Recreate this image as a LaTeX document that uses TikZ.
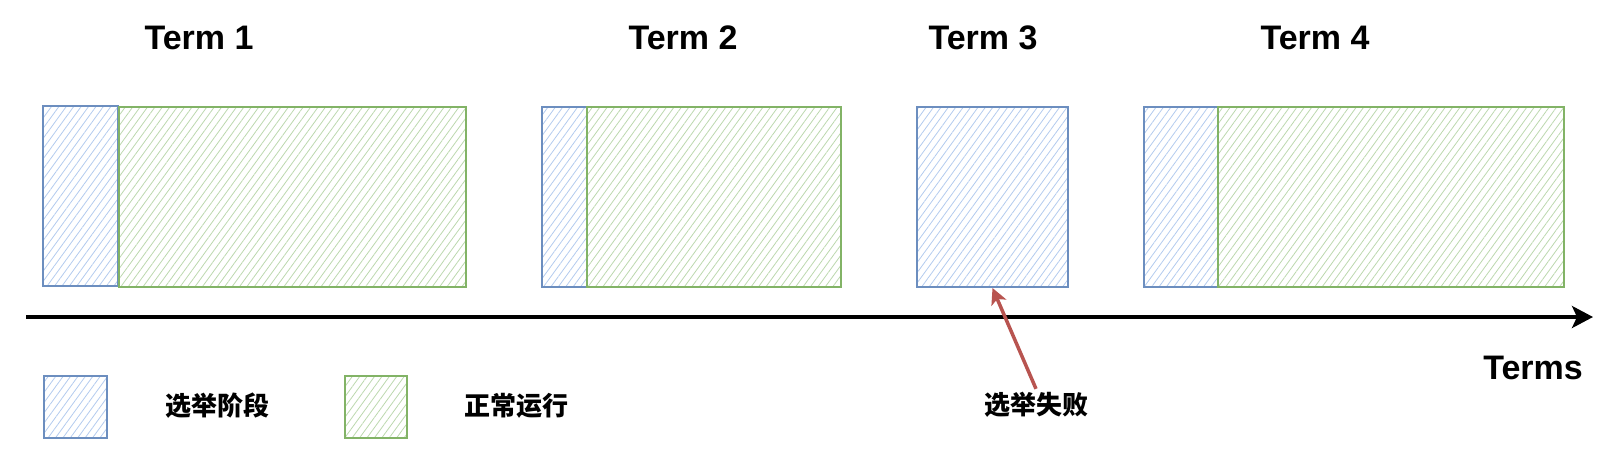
\documentclass[tikz,border=0pt]{standalone}
\usepackage{fontspec}
\setmainfont{Liberation Sans}
\newfontfamily\cjk{Noto Sans CJK SC}
\usetikzlibrary{positioning}
\usetikzlibrary{arrows.meta,patterns.meta}

\definecolor{electline}{HTML}{6C8EBF}
\definecolor{electhatch}{HTML}{B3CBEE}
\definecolor{runline}{HTML}{82B366}
\definecolor{runhatch}{HTML}{BCD8AE}
\definecolor{failred}{HTML}{B85450}

\tikzset{
  elect/.style={draw=electline, line width=2pt, inner sep=0pt, anchor=north west,
    pattern={Lines[angle=54,distance=6pt,line width=0.8pt]}, pattern color=electhatch},
  run/.style={draw=runline, line width=2pt, inner sep=0pt, anchor=north west,
    pattern={Lines[angle=54,distance=6pt,line width=0.8pt]}, pattern color=runhatch},
  termlabel/.style={font=\fontsize{34}{40}\selectfont\bfseries},
  cjklabel/.style={font=\cjk\fontsize{26}{30}\selectfont\bfseries}
}

\begin{document}
\begin{tikzpicture}[x=1pt,y=-1pt]
\useasboundingbox (0,0) rectangle (1624,453);

% terms
\node[termlabel](t1) at (199,38){Term 1};
\node[termlabel](t2) at (683,38){Term 2};
\node[termlabel](t3) at (983,38){Term 3};
\node[termlabel](t4) at (1315,38){Term 4};

\node[elect,minimum width=75,minimum height=180](e1) at (43,106){};
\node[run,minimum width=347,minimum height=180](r1) at (118,106){};
\node[elect,minimum width=45,minimum height=180](e2) at (541,106){};
\node[run,minimum width=254,minimum height=180](r2) at (586,106){};
\node[elect,minimum width=151,minimum height=180](e3) at (916,106){};
\node[elect,minimum width=74,minimum height=180](e4) at (1143,106){};
\node[run,minimum width=346,minimum height=180](r4) at (1217,106){};

% time axis
\coordinate(axisstart) at (26,317);
\coordinate(axisend) at (1593,317);
\node[termlabel](terms) at (1533,368){Terms};

% legend
\node[elect,minimum width=63,minimum height=62](legelect) at (43,375){};
\node[cjklabel](legelecttext) at (217,406){选举阶段};
\node[run,minimum width=62,minimum height=62](legrun) at (344,375){};
\node[cjklabel](legruntext) at (516,406){正常运行};

\node[cjklabel](fail) at (1036,405){选举失败};

\path
(axisstart) edge[line width=3.5pt,-{Stealth[length=21pt,width=22pt,inset=5pt]}] (axisend)
(fail.north) edge[failred,line width=3.5pt,-{Stealth[length=16pt,width=16pt,inset=4pt]}] (e3.south);
\end{tikzpicture}
\end{document}
